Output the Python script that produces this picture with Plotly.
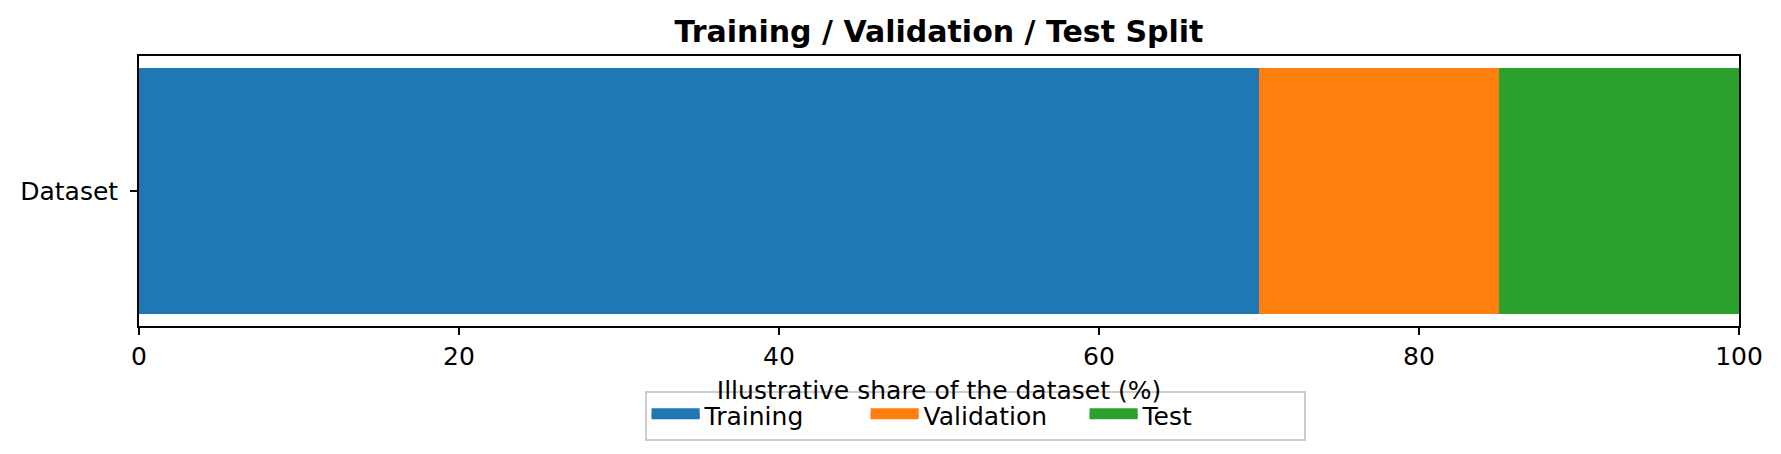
import plotly.graph_objects as go

# split shares (%)
split_names = ["Training", "Validation", "Test"]
split_shares = [70, 15, 15]
split_colors = ["#1f77b4", "#ff7f0e", "#2ca02c"]
row_label = ["Dataset"]
x_ticks = [0, 20, 40, 60, 80, 100]

FONT = "DejaVu Sans"

fig = go.Figure()
for name, share, color in zip(split_names, split_shares, split_colors):
    fig.add_trace(go.Bar(
        x=[share], y=row_label, name=name, orientation="h",
        width=0.8, marker=dict(color=color, line=dict(width=0)),
        legendgroup=name, showlegend=False,
    ))

# legend-only entries so the key shows wide patches like the bars
for name, color in zip(split_names, split_colors):
    fig.add_trace(go.Scatter(
        x=[None], y=[None], mode="lines", name=name,
        line=dict(color=color, width=23), fill="toself", fillcolor=color,
        legendgroup=name, hoverinfo="skip",
    ))

fig.update_layout(
    width=1781, height=454,
    barmode="stack",
    margin=dict(l=121, r=50, t=48, b=136),
    plot_bgcolor="white", paper_bgcolor="white",
    font=dict(family=FONT, size=25, color="black"),
    title=dict(
        text="<b>Training / Validation / Test Split</b>",
        font=dict(family=FONT, size=30, color="black"),
        x=0.5, xref="paper", y=1 - 23 / 454, yref="container",
        xanchor="center", yanchor="middle",
    ),
    showlegend=True,
    legend=dict(
        orientation="h", x=0.316, xanchor="left", y=-0.239, yanchor="top",
        bgcolor="rgba(255,255,255,0.8)", bordercolor="#cccccc", borderwidth=2,
        font=dict(family=FONT, size=25, color="black"),
        itemwidth=48, entrywidth=156, traceorder="normal",
    ),
)

fig.update_xaxes(
    range=[0, 100], tickvals=x_ticks,
    showgrid=False, zeroline=False,
    showline=True, linecolor="black", linewidth=1.7, mirror=True,
    ticks="outside", ticklen=7, tickwidth=1.7, tickcolor="black",
    tickfont=dict(family=FONT, size=25),
    title=dict(text="Illustrative share of the dataset (%)",
               font=dict(family=FONT, size=25), standoff=12),
)
fig.update_yaxes(
    range=[-0.44, 0.44],
    showgrid=False, zeroline=False,
    showline=True, linecolor="black", linewidth=1.7, mirror=True,
    ticks="outside", ticklen=7, tickwidth=1.7, tickcolor="black",
    tickfont=dict(family=FONT, size=25), ticklabelstandoff=7,
)

fig.write_html("out.html")
